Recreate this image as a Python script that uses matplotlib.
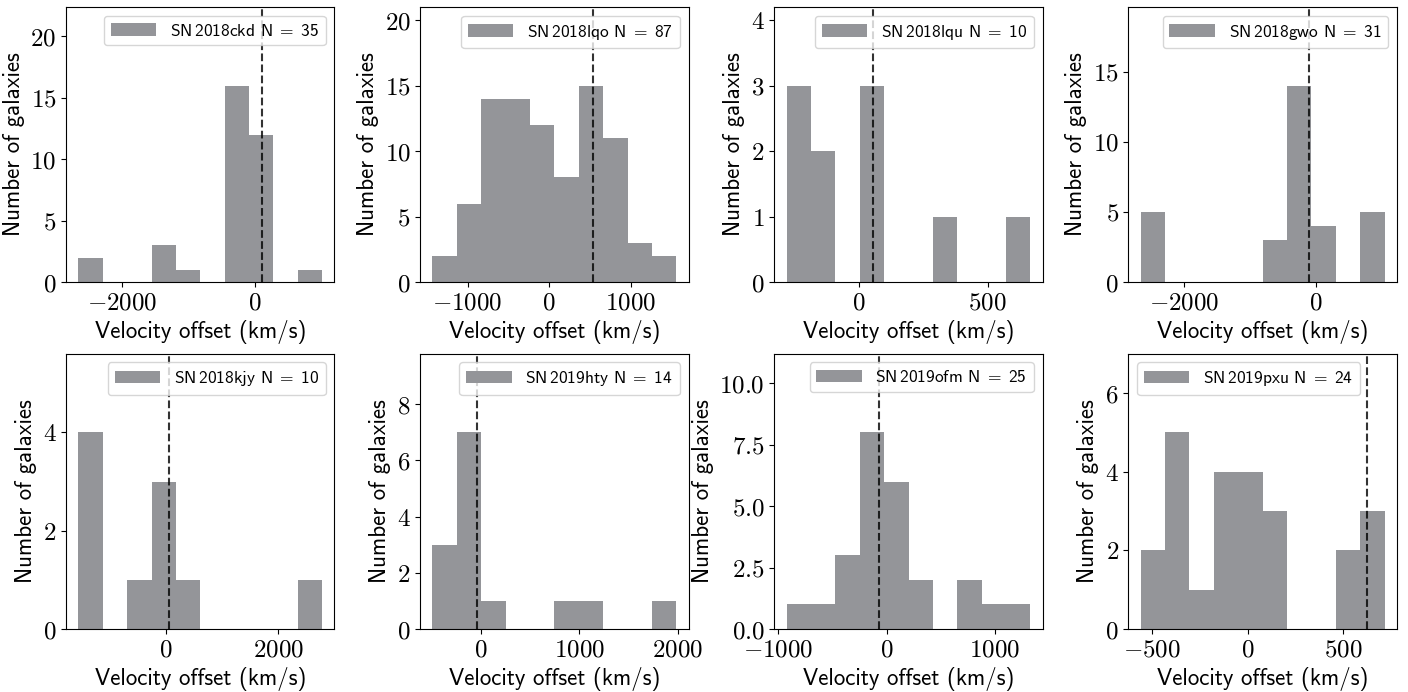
import numpy as np
import matplotlib
matplotlib.use("Agg")
import matplotlib.pyplot as plt
from matplotlib.ticker import MaxNLocator, ScalarFormatter

plt.rcParams["mathtext.fontset"] = "cm"
plt.rcParams["font.family"] = "cmss10"
plt.rcParams["axes.unicode_minus"] = False

# supernova names, one panel each
sn_names = ["2018ckd", "2018lqo", "2018lqu", "2018gwo",
            "2018kjy", "2019hty", "2019ofm", "2019pxu"]

# histogram range (first and last bin edge, km/s), 10 bins per panel
bin_lo = [-2662, -1430, -280, -2660, -1557, -496, -922, -561]
bin_hi = [1018, 1557, 666, 1043, 2787, 1986, 1327, 715]

counts_2018ckd = [2, 0, 0, 3, 1, 0, 16, 12, 0, 1]
counts_2018lqo = [2, 6, 14, 14, 12, 8, 15, 11, 3, 2]
counts_2018lqu = [3, 2, 0, 3, 0, 0, 1, 0, 0, 1]
counts_2018gwo = [5, 0, 0, 0, 0, 3, 14, 4, 0, 5]
counts_2018kjy = [4, 0, 1, 3, 1, 0, 0, 0, 0, 1]
counts_2019hty = [3, 7, 1, 0, 0, 1, 1, 0, 0, 1]
counts_2019ofm = [1, 1, 3, 8, 6, 2, 0, 2, 1, 1]
counts_2019pxu = [2, 5, 1, 4, 4, 3, 0, 0, 2, 3]

all_counts = [counts_2018ckd, counts_2018lqo, counts_2018lqu, counts_2018gwo,
              counts_2018kjy, counts_2019hty, counts_2019ofm, counts_2019pxu]

# velocity of the supernova host (dashed line), km/s
sn_velocity = [110, 533, 54, -101, 64, -47, -65, 625]

legend_loc = ["upper right"] * 7 + ["upper left"]


class MathFormatter(ScalarFormatter):
    """Scalar tick labels typeset as math (Computer Modern)."""

    def __call__(self, x, pos=None):
        s = super().__call__(x, pos)
        return r"$%s$" % s if s else s


fig, axes = plt.subplots(2, 4, figsize=(14.08, 6.92), dpi=100)
fig.subplots_adjust(left=0.047, right=0.992, top=0.990, bottom=0.091,
                    wspace=0.32, hspace=0.26)

for i, ax in enumerate(axes.flat):
    counts = np.array(all_counts[i])
    edges = np.linspace(bin_lo[i], bin_hi[i], len(counts) + 1)
    label = r"SN$\,$%s N$\;=\;$%d" % (sn_names[i], counts.sum())
    ax.bar(edges[:-1], counts, width=np.diff(edges), align="edge",
           color="#949599", label=label)
    ax.axvline(sn_velocity[i], color="k", ls="--", lw=1.5, alpha=0.8)
    ax.set_ylim(0, 1.4 * counts.max())
    ax.xaxis.set_major_locator(MaxNLocator(nbins=4, steps=[1, 2, 2.5, 5, 10]))
    ax.yaxis.set_major_locator(MaxNLocator(nbins=5, steps=[1, 2, 2.5, 5, 10]))
    ax.xaxis.set_major_formatter(MathFormatter())
    ax.yaxis.set_major_formatter(MathFormatter())
    ax.tick_params(labelsize=18)
    ax.set_xlabel("Velocity offset (km/s)", fontsize=16.5)
    ax.set_ylabel("Number of galaxies", fontsize=16.5)
    ax.legend(loc=legend_loc[i], fontsize=12.5, handlelength=2.6)

plt.savefig("out.png", dpi=100)
